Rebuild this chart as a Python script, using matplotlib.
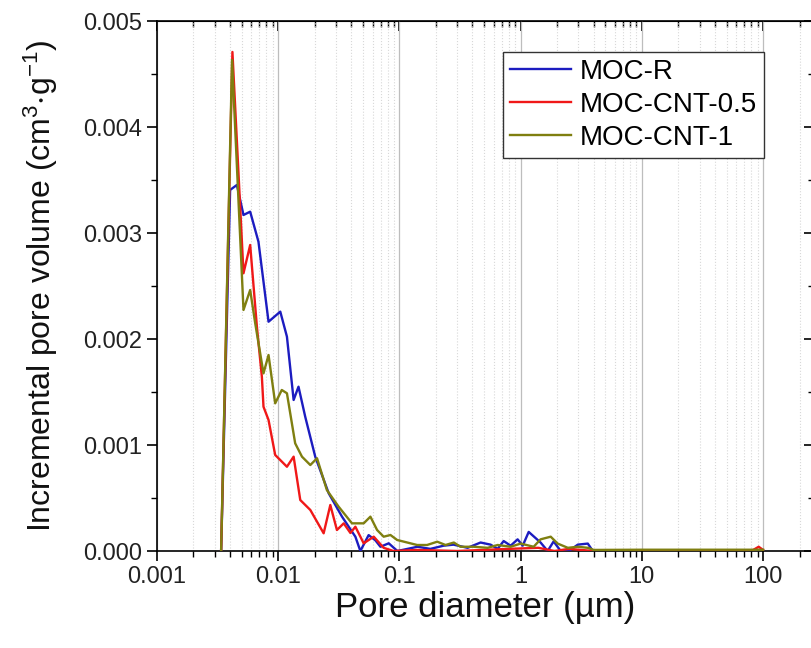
import numpy as np
import matplotlib
matplotlib.use("Agg")
import matplotlib.pyplot as plt
from matplotlib.ticker import LogLocator, FuncFormatter, MultipleLocator, NullFormatter

plt.rcParams['font.family'] = ['Liberation Sans', 'DejaVu Sans']
plt.rcParams['mathtext.default'] = 'regular'

# ---- data (pore diameter in um, volume in cm3/g) ----
d_ref = [0.00338, 0.00401, 0.00456, 0.00517, 0.00587, 0.00687, 0.00832, 0.0104,
         0.0118, 0.0134, 0.0147, 0.0167, 0.0202, 0.0261, 0.0336, 0.0433, 0.0476,
         0.0557, 0.0634, 0.0697, 0.0816, 0.0962, 0.141, 0.180, 0.231, 0.279,
         0.365, 0.467, 0.565, 0.646, 0.724, 0.827, 0.944, 1.04, 1.165, 1.46,
         1.67, 1.87, 2.14, 2.50, 2.96, 3.58, 3.94, 10.0, 40.0, 100.0]
v_ref = [0.0, 0.003406, 0.003453, 0.00317, 0.003201, 0.002918, 0.002163, 0.002258,
         0.002022, 0.001425, 0.00155, 0.001267, 0.00089, 0.000544, 0.000324,
         0.000135, 0.0, 0.00015, 0.0001, 0.00004, 0.0000726, 0.0, 0.00004,
         0.00002, 0.00005, 0.00006, 0.00003, 0.00008, 0.00006, 0.00002,
         0.000094, 0.00005, 0.00011, 0.00005, 0.00018, 0.00008, 0.0, 0.00009,
         0.0, 0.0, 0.00006, 0.00007, 0.0, 0.0, 0.0, 0.0]

d_cnt05 = [0.00338, 0.00419, 0.00517, 0.00587, 0.00667, 0.00733, 0.00756, 0.00832,
           0.00944, 0.0118, 0.0134, 0.0152, 0.0184, 0.0237, 0.0269, 0.0305,
           0.0347, 0.0394, 0.0433, 0.0507, 0.0614, 0.0741, 0.0892, 0.14, 0.3,
           0.8, 1.4, 1.9, 2.5, 4.0, 10.0, 40.0, 80.0, 92.0, 100.0]
v_cnt05 = [0.0, 0.004708, 0.00262, 0.002887, 0.002116, 0.001644, 0.001361, 0.001236,
           0.000906, 0.000795, 0.00089, 0.000481, 0.000387, 0.000167, 0.000434,
           0.000198, 0.000261, 0.00017, 0.000229, 0.0000726, 0.000135, 0.00003,
           0.0, 0.00001, 0.0, 0.00002, 0.00003, 0.0, 0.00002, 0.0, 0.0, 0.0,
           0.0, 0.00004, 0.00001]

d_cnt1 = [0.00338, 0.00416, 0.00517, 0.00587, 0.00646, 0.00756, 0.00832, 0.00944,
          0.0107, 0.0118, 0.0138, 0.0157, 0.0184, 0.0209, 0.0252, 0.0315, 0.0406,
          0.0507, 0.0576, 0.0654, 0.0741, 0.0843, 0.0957, 0.116, 0.140, 0.169,
          0.205, 0.240, 0.281, 0.319, 0.409, 0.534, 0.646, 0.827, 1.0, 1.28,
          1.46, 1.77, 2.02, 2.45, 2.96, 3.58, 4.01, 10.0, 40.0, 100.0]
v_cnt1 = [0.0, 0.004632, 0.002274, 0.002462, 0.002148, 0.001676, 0.001849, 0.001393,
          0.001519, 0.001488, 0.001016, 0.00089, 0.000811, 0.000875, 0.000575,
          0.000418, 0.000261, 0.000261, 0.000324, 0.000198, 0.000135, 0.000151,
          0.000104, 0.00008, 0.0000566, 0.0000566, 0.0000877, 0.0000566,
          0.00008, 0.00004, 0.00004, 0.00003, 0.0000566, 0.00004, 0.00007,
          0.00004, 0.00011, 0.000135, 0.00007, 0.00003, 0.00004, 0.00003,
          0.00001, 0.000012, 0.000012, 0.000012]

series = [
    ('MOC-R', d_ref, v_ref, '#1c1cc0'),
    ('MOC-CNT-0.5', d_cnt05, v_cnt05, '#f01818'),
    ('MOC-CNT-1', d_cnt1, v_cnt1, '#7f7f10'),
]

fig = plt.figure(figsize=(8.11, 6.48), dpi=100)
ax = fig.add_axes([157 / 811, 97 / 648, 657 / 811, 530 / 648])

for name, d, v, c in series:
    ax.plot(d, v, color=c, lw=1.7, label=name, zorder=3)

ax.set_xscale('log')
ax.set_xlim(0.001, 263)
ax.set_ylim(0, 0.005)

ax.xaxis.set_major_locator(LogLocator(base=10, numticks=12))
ax.xaxis.set_minor_locator(LogLocator(base=10, subs=np.arange(2, 10), numticks=12))
ax.xaxis.set_major_formatter(FuncFormatter(lambda x, p: '%g' % x))
ax.xaxis.set_minor_formatter(NullFormatter())
ax.yaxis.set_major_locator(MultipleLocator(0.001))
ax.yaxis.set_minor_locator(MultipleLocator(0.0005))
ax.yaxis.set_major_formatter(FuncFormatter(lambda y, p: '%.3f' % y))

ax.grid(True, which='major', axis='x', color='#bdbdbd', lw=0.9, ls='-')
ax.grid(True, which='minor', axis='x', color='#d8d8d8', lw=0.8, ls=':')

for s in ax.spines.values():
    s.set_linewidth(1.2)
ax.tick_params(which='major', direction='out', length=7, width=1.2, labelsize=17,
               pad=4, labelcolor='#222222')
ax.tick_params(which='minor', direction='out', length=4, width=1.0)

# mirrored axes on top/right with inward ticks
top = ax.secondary_xaxis('top')
top.xaxis.set_major_locator(LogLocator(base=10, numticks=12))
top.xaxis.set_minor_locator(LogLocator(base=10, subs=np.arange(2, 10), numticks=12))
top.tick_params(which='major', direction='in', length=7, width=1.2, labeltop=False)
top.tick_params(which='minor', direction='in', length=4, width=1.0)
top.xaxis.set_major_formatter(NullFormatter())
top.xaxis.set_minor_formatter(NullFormatter())
right = ax.secondary_yaxis('right')
right.yaxis.set_major_locator(MultipleLocator(0.001))
right.yaxis.set_minor_locator(MultipleLocator(0.0005))
right.tick_params(which='major', direction='in', length=7, width=1.2, labelright=False)
right.tick_params(which='minor', direction='in', length=4, width=1.0)
right.yaxis.set_major_formatter(NullFormatter())

ax.set_xlabel('Pore diameter (µm)', fontsize=25, labelpad=2, color='#111111')
ax.set_ylabel('Incremental pore volume (cm$^{3}$$\\cdot$g$^{-1}$)', fontsize=23,
              labelpad=16, color='#111111')

leg = ax.legend(loc='upper left', bbox_to_anchor=(0.527, 0.9415), fontsize=20,
                frameon=True, fancybox=False, edgecolor='#333333', framealpha=1,
                handlelength=2.2, handletextpad=0.3, labelspacing=0.25,
                borderpad=0.25, borderaxespad=0)
leg.get_frame().set_linewidth(1.0)

fig.savefig('out.png', dpi=100)
